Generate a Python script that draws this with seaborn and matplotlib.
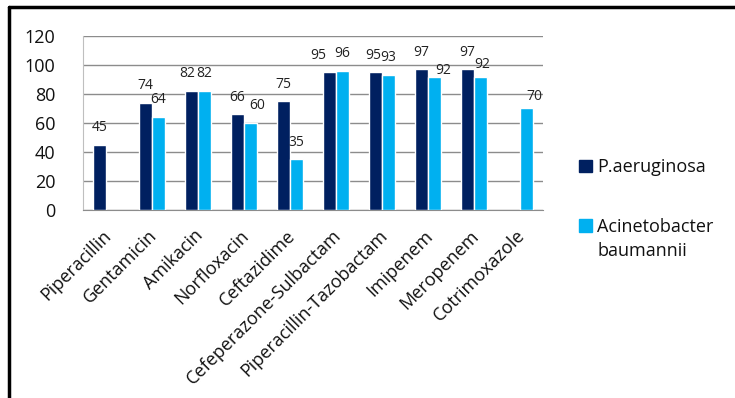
import matplotlib
matplotlib.use("Agg")
import matplotlib.pyplot as plt
import matplotlib.lines as mlines
import matplotlib.patches as mpatches
from matplotlib.transforms import ScaledTranslation
import numpy as np
import pandas as pd
import seaborn as sns

categories = ["Piperacillin", "Gentamicin", "Amikacin", "Norfloxacin", "Ceftazidime",
              "Cefeperazone-Sulbactam", "Piperacillin-Tazobactam", "Imipenem",
              "Meropenem", "Cotrimoxazole"]
p_aeruginosa = [45, 74, 82, 66, 75, 95, 95, 97, 97, np.nan]
a_baumannii = [np.nan, 64, 82, 60, 35, 96, 93, 92, 92, 70]
series_names = ["P.aeruginosa", "Acinetobacter\nbaumannii"]
colors = ["#002060", "#00B0F0"]
yticks = [0, 20, 40, 60, 80, 100, 120]

# label nudges (points) to keep neighbouring data labels apart, like the original
label_nudge = {
    (0, 2): (-3, 0),
    (1, 2): (5, 0),
    (0, 5): (-8, 0),
    (0, 6): (-2, 0),
    (1, 6): (6, -8),
    (1, 7): (1, -4),
    (1, 8): (6, -4),
}

rows = []
for c, v in zip(categories, p_aeruginosa):
    rows.append({"drug": c, "org": series_names[0], "val": v})
for c, v in zip(categories, a_baumannii):
    rows.append({"drug": c, "org": series_names[1], "val": v})
df = pd.DataFrame(rows)

sns.set_style("white")
plt.rcParams["font.family"] = ["Open Sans", "DejaVu Sans"]

fig = plt.figure(figsize=(7.35, 3.98), dpi=100)
ax = fig.add_axes([83/735, 1-210/398, 460/735, 174/398])

sns.barplot(data=df, x="drug", y="val", hue="org", order=categories,
            hue_order=series_names, palette=colors, width=0.56, ax=ax,
            errorbar=None, saturation=1, legend=False, zorder=3)

for si, cont in enumerate(ax.containers):
    for ci, b in enumerate(cont):
        h = b.get_height()
        if np.isnan(h) or h == 0:
            continue
        dx, dy = label_nudge.get((si, ci), (0, 0))
        ax.annotate(f"{h:.0f}", (b.get_x() + b.get_width() / 2, h),
                    xytext=(dx, 7 + dy), textcoords="offset points",
                    ha="center", va="bottom", fontsize=10, color="#222222")

ax.set_ylim(0, 120)
ax.set_yticks(yticks)
ax.set_yticklabels([str(t) for t in yticks], fontsize=13, color="#111111")
ax.tick_params(axis="y", length=0, pad=20)
ax.tick_params(axis="x", length=0, pad=12)
ax.set_xlim(-0.5, len(categories) - 0.5)
ax.yaxis.grid(True, color="#8c8c8c", linewidth=1, zorder=0)
ax.set_axisbelow(True)
for s in ["top", "right"]:
    ax.spines[s].set_visible(False)
ax.spines["left"].set_color("#bfbfbf")
ax.spines["bottom"].set_color("#8c8c8c")
ax.set_xlabel("")
ax.set_ylabel("")
ax.set_xticks(range(len(categories)))
ax.set_xticklabels(categories, rotation=45, ha="right", rotation_mode="anchor",
                   fontsize=13, color="#111111")
shift = ScaledTranslation(-4 / 100, 0, fig.dpi_scale_trans)
for lbl in ax.get_xticklabels():
    lbl.set_transform(lbl.get_transform() + shift)

handles = [mpatches.Patch(color=c, label=n) for c, n in zip(colors, series_names)]
leg = fig.legend(handles=handles, loc="upper left", bbox_to_anchor=(563/735, 1-142/398),
                 frameon=False, fontsize=13, handlelength=0.7, handleheight=0.7,
                 handletextpad=0.3, labelspacing=2.3)
for t in leg.get_texts():
    t.set_linespacing(1.45)
    t.set_color("#111111")

# align the second legend square with the first line of its two-line label
fig.canvas.draw()
r = fig.canvas.get_renderer()
hs = leg.legend_handles
ts = leg.get_texts()
h0 = hs[0].get_window_extent(r)
t0 = ts[0].get_window_extent(r)
h1 = hs[1].get_window_extent(r)
t1 = ts[1].get_window_extent(r)
off0 = t0.y1 - (h0.y0 + h0.y1) / 2
want = t1.y1 - off0
shift_px = want - (h1.y0 + h1.y1) / 2
hs[1].set_y(hs[1].get_y() + shift_px * 72 / fig.dpi)

fig.add_artist(mlines.Line2D([9/735, 9/735], [0, 1-7/398], color="black", linewidth=2.5,
                             transform=fig.transFigure))
fig.add_artist(mlines.Line2D([9/735, 1], [1-7/398, 1-7/398], color="black", linewidth=2.5,
                             transform=fig.transFigure))

fig.savefig("out.png", dpi=100, facecolor="white")
